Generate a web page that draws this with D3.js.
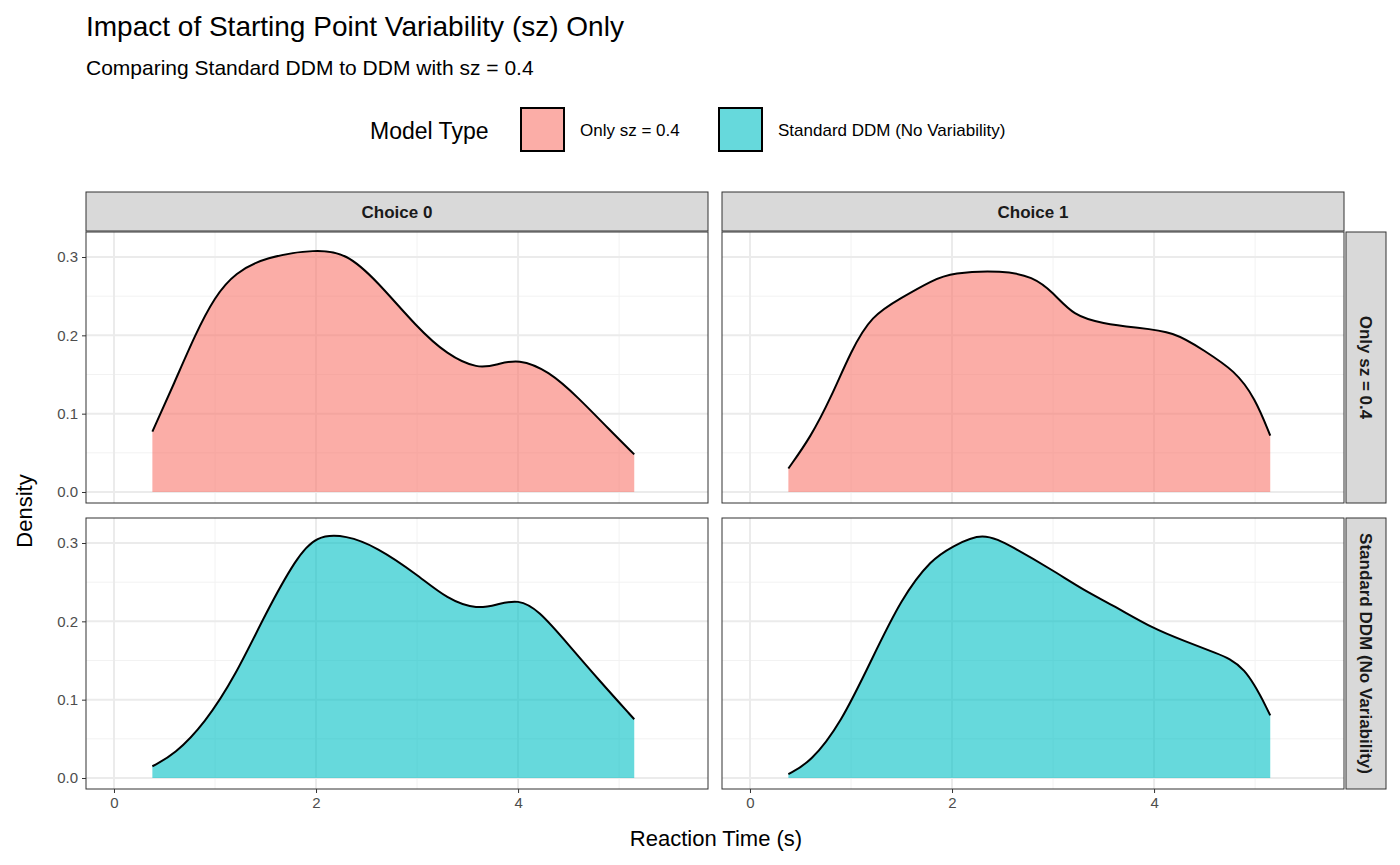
<!DOCTYPE html>
<html><head><meta charset="utf-8">
<script src="https://cdn.jsdelivr.net/npm/d3@7"></script>
<style>body{margin:0;background:#fff;font-family:Arial,"Liberation Sans",sans-serif}</style>
</head><body>
<div id="chart"></div>
<script>
// data
var choices = ["Choice 0", "Choice 1"];
var models = ["Only sz = 0.4", "Standard DDM (No Variability)"];
var colors = ["#F8766D", "#00BFC4"];
var xTicks = [0, 2, 4];
var yTicks = [0, 0.1, 0.2, 0.3];

var szChoice0 = [[0.38,0.077],[0.6,0.14],[0.8,0.2],[1.0,0.25],[1.2,0.28],[1.5,0.3],[2.0,0.31],[2.3,0.305],[2.6,0.27],[3.0,0.21],[3.3,0.175],[3.6,0.157],[3.8,0.163],[4.0,0.17],[4.3,0.155],[4.6,0.12],[4.9,0.08],[5.15,0.048]];
var szChoice1 = [[0.38,0.03],[0.6,0.07],[0.8,0.12],[1.0,0.18],[1.2,0.225],[1.5,0.248],[1.8,0.27],[2.0,0.28],[2.5,0.283],[2.8,0.275],[3.0,0.255],[3.2,0.225],[3.5,0.215],[3.8,0.21],[4.2,0.205],[4.5,0.18],[4.8,0.155],[5.0,0.12],[5.15,0.072]];
var stdChoice0 = [[0.38,0.015],[0.6,0.03],[0.9,0.07],[1.2,0.13],[1.5,0.21],[1.8,0.28],[2.0,0.31],[2.3,0.31],[2.6,0.295],[3.0,0.26],[3.3,0.228],[3.6,0.215],[3.8,0.222],[4.0,0.228],[4.2,0.215],[4.5,0.17],[4.8,0.125],[5.15,0.075]];
var stdChoice1 = [[0.38,0.005],[0.6,0.02],[0.9,0.07],[1.2,0.15],[1.5,0.23],[1.8,0.28],[2.0,0.295],[2.3,0.315],[2.6,0.295],[3.0,0.265],[3.3,0.24],[3.6,0.22],[4.0,0.19],[4.3,0.175],[4.6,0.16],[4.9,0.145],[5.15,0.08]];
var curves = [[szChoice0, szChoice1], [stdChoice0, stdChoice1]];

var svg = d3.select("#chart").append("svg").attr("width", 1400).attr("height", 865);

svg.append("text").attr("x", 86).attr("y", 36).style("font-size", "28px").text("Impact of Starting Point Variability (sz) Only");
svg.append("text").attr("x", 86).attr("y", 75).style("font-size", "21px").text("Comparing Standard DDM to DDM with sz = 0.4");

// legend
svg.append("text").attr("x", 370).attr("y", 139).style("font-size", "23px").text("Model Type");
var legX = [520, 718];
models.forEach(function(m, i) {
	svg.append("rect").attr("x", legX[i] + 1).attr("y", 108).attr("width", 43).attr("height", 43)
		.attr("fill", colors[i]).attr("fill-opacity", 0.6).attr("stroke", "#000").attr("stroke-width", 2);
	svg.append("text").attr("x", legX[i] + 60).attr("y", 136).style("font-size", "17px").text(m);
});

var cols = [86, 722], rows = [232, 518], pw = 622, ph = 271;

cols.forEach(function(cx, c) {
	var g = svg.append("g");
	g.append("rect").attr("x", cx).attr("y", 192).attr("width", pw).attr("height", 39)
		.attr("fill", "#D9D9D9").attr("stroke", "#333").attr("stroke-width", 1);
	g.append("text").attr("x", cx + pw / 2).attr("y", 218).attr("text-anchor", "middle")
		.style("font-size", "17px").attr("font-weight", "bold").attr("fill", "#1a1a1a").text(choices[c]);
});

rows.forEach(function(ry, r) {
	svg.append("rect").attr("x", 1346).attr("y", ry).attr("width", 40).attr("height", ph)
		.attr("fill", "#D9D9D9").attr("stroke", "#333");
	svg.append("clipPath").attr("id", "sc" + r).append("rect").attr("x", 1346).attr("y", ry).attr("width", 40).attr("height", ph);
	svg.append("g").attr("clip-path", "url(#sc" + r + ")").append("text")
		.attr("transform", "translate(1360," + (ry + ph / 2) + ") rotate(90)")
		.attr("text-anchor", "middle").style("font-size", "17px").attr("font-weight", "bold").attr("fill", "#1a1a1a").text(models[r]);
});

rows.forEach(function(ry, r) {
	cols.forEach(function(cx, c) {
		var x = d3.scaleLinear().domain([-0.277, 5.88]).range([cx, cx + pw]);
		var y = d3.scaleLinear().domain([0, 0.3]).range([ry + 260, ry + 25]);
		var g = svg.append("g");
		d3.range(1, 6, 2).forEach(function(v) {
			g.append("line").attr("x1", x(v)).attr("x2", x(v)).attr("y1", ry).attr("y2", ry + ph).attr("stroke", "#F2F2F2").attr("stroke-width", 1);
		});
		[0.05, 0.15, 0.25].forEach(function(v) {
			g.append("line").attr("x1", cx).attr("x2", cx + pw).attr("y1", y(v)).attr("y2", y(v)).attr("stroke", "#F2F2F2").attr("stroke-width", 1);
		});
		xTicks.forEach(function(v) {
			g.append("line").attr("x1", x(v)).attr("x2", x(v)).attr("y1", ry).attr("y2", ry + ph).attr("stroke", "#EBEBEB").attr("stroke-width", 2);
		});
		yTicks.forEach(function(v) {
			g.append("line").attr("x1", cx).attr("x2", cx + pw).attr("y1", y(v)).attr("y2", y(v)).attr("stroke", "#EBEBEB").attr("stroke-width", 2);
		});
		var d = curves[r][c];
		g.append("path").datum(d)
			.attr("d", d3.area().x(function(p) { return x(p[0]); }).y0(y(0)).y1(function(p) { return y(p[1]); }).curve(d3.curveBasis))
			.attr("fill", colors[r]).attr("fill-opacity", 0.6);
		g.append("path").datum(d)
			.attr("d", d3.line().x(function(p) { return x(p[0]); }).y(function(p) { return y(p[1]); }).curve(d3.curveBasis))
			.attr("fill", "none").attr("stroke", "#000").attr("stroke-width", 2);
		g.append("rect").attr("x", cx).attr("y", ry).attr("width", pw).attr("height", ph)
			.attr("fill", "none").attr("stroke", "#333").attr("stroke-width", 1);
		if (c === 0) {
			var ya = g.append("g").attr("transform", "translate(" + cx + ",0)")
				.call(d3.axisLeft(y).tickValues(yTicks).tickFormat(d3.format(".1f")).tickSize(4).tickPadding(4));
			ya.select(".domain").remove();
			ya.selectAll("line").attr("stroke", "#333");
			ya.selectAll("text").style("font-size", "15px").attr("fill", "#4D4D4D").style("font-family", "Arial, Liberation Sans, sans-serif");
		}
		if (r === 1) {
			var xa = g.append("g").attr("transform", "translate(0," + (ry + ph) + ")")
				.call(d3.axisBottom(x).tickValues(xTicks).tickFormat(d3.format("d")).tickSize(4).tickPadding(4));
			xa.select(".domain").remove();
			xa.selectAll("line").attr("stroke", "#333");
			xa.selectAll("text").style("font-size", "15px").attr("fill", "#4D4D4D").style("font-family", "Arial, Liberation Sans, sans-serif");
		}
	});
});

svg.append("text").attr("x", 716).attr("y", 846).attr("text-anchor", "middle").style("font-size", "22px").text("Reaction Time (s)");
svg.append("text").attr("transform", "translate(32,511) rotate(-90)").attr("text-anchor", "middle").style("font-size", "22px").text("Density");
</script>
</body></html>
